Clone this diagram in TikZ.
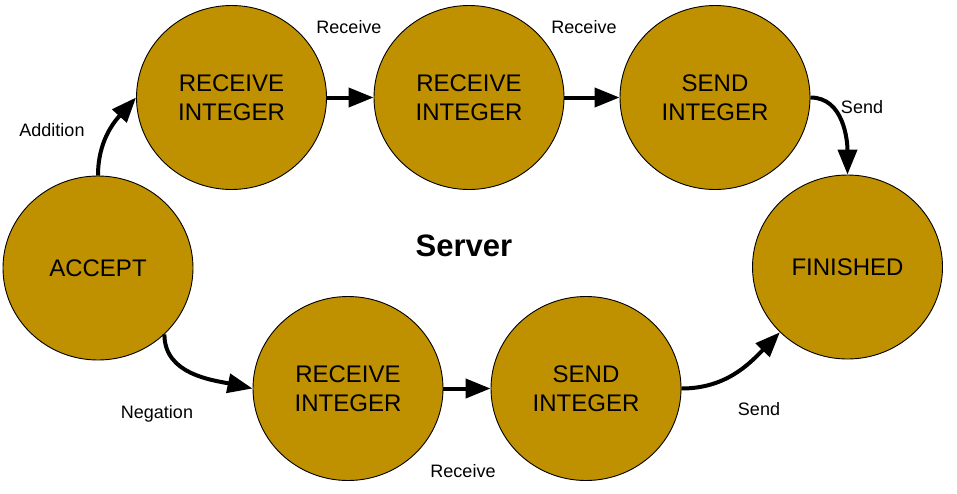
\documentclass[tikz,border=0pt]{standalone}
\usepackage{fontspec}
\setmainfont{Liberation Sans}
\usetikzlibrary{arrows.meta,shapes.geometric}
\definecolor{stategold}{HTML}{BF9000}
\begin{document}
\begin{tikzpicture}[x=1pt,y=-1pt,
  state/.style={ellipse,draw=black,line width=0.9pt,fill=stategold,
    minimum width=190pt,minimum height=184pt,inner sep=0pt,align=center,
    font=\fontsize{24}{28.5}\selectfont},
  lbl/.style={font=\fontsize{18}{20}\selectfont,inner sep=0pt},
  conn/.style={line width=4pt,-{Triangle[length=25pt,width=19pt]}}]
\useasboundingbox (0,0) rectangle (957,493);
\node[state] (acc) at (98,268) {ACCEPT};
\node[state] (r1) at (231.5,97.5) {RECEIVE\\INTEGER};
\node[state] (r2) at (469,97.5) {RECEIVE\\INTEGER};
\node[state] (s1) at (715,97.5) {SEND\\INTEGER};
\node[state] (fin) at (847.5,267) {FINISHED};
\node[state] (r3) at (348,388.5) {RECEIVE\\INTEGER};
\node[state] (s2) at (586,388.5) {SEND\\INTEGER};
\node[font=\fontsize{31}{34}\selectfont\bfseries] (title) at (464,246) {Server};
\draw[conn] (acc.north) to[out=90,in=228] (r1.west);
\draw[conn] (r1.east) -- (r2.west);
\draw[conn] (r2.east) -- (s1.west);
\draw[conn] (s1.east) to[out=0,in=90] (fin.north);
\draw[conn] (acc.-45) to[out=-90,in=168] (r3.west);
\draw[conn] (r3.east) -- (s2.west);
\draw[conn] (s2.east) to[out=0,in=226] (fin.224);
\node[lbl] (l1) at (52,130) {Addition};
\node[lbl] (l2) at (349,27) {Receive};
\node[lbl] (l3) at (584,27) {Receive};
\node[lbl] (l4) at (862,107) {Send};
\node[lbl] (l5) at (157,414) {Negation};
\node[lbl] (l6) at (463,471) {Receive};
\node[lbl] (l7) at (759,409) {Send};
\end{tikzpicture}
\end{document}
